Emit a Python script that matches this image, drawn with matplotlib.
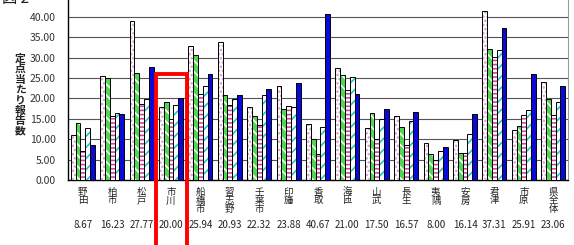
import numpy as np
import matplotlib
matplotlib.use("Agg")
import matplotlib.pyplot as plt
from matplotlib.patches import Rectangle

plt.rcParams['font.family'] = ['Noto Sans CJK JP', 'DejaVu Sans']
plt.rcParams['hatch.linewidth'] = 1.2

# categories (health centre areas) and the current value shown under each
areas = ["野田", "柏市", "松戸", "市川", "船橋市", "習志野", "千葉市", "印旛", "香取",
         "海匝", "山武", "長生", "夷隅", "安房", "君津", "市原", "県全体"]
current_labels = ["8.67", "16.23", "27.77", "20.00", "25.94", "20.93", "22.32", "23.88",
                  "40.67", "21.00", "17.50", "16.57", "8.00", "16.14", "37.31", "25.91", "23.06"]

# five series per area
s1 = [11.0, 25.5, 39.0, 17.8, 32.8, 33.7, 18.0, 23.1, 13.7, 27.4, 12.8, 15.7, 9.1, 9.8, 41.5, 12.3, 24.1]
s2 = [13.9, 24.9, 26.1, 19.2, 30.5, 20.7, 15.7, 17.3, 10.0, 25.7, 16.3, 12.9, 6.4, 6.7, 32.1, 13.2, 19.9]
s3 = [7.2, 15.7, 18.6, 14.9, 21.0, 18.3, 13.5, 18.1, 6.4, 22.1, 10.0, 8.6, 4.9, 6.7, 30.1, 15.9, 15.9]
s4 = [12.7, 16.5, 19.8, 18.4, 23.1, 19.8, 20.8, 18.0, 12.9, 25.3, 14.9, 14.5, 7.2, 11.3, 31.9, 17.2, 19.0]
s5 = [8.67, 16.23, 27.77, 20.00, 25.94, 20.93, 22.32, 23.88, 40.67, 21.00, 17.50, 16.57,
      8.00, 16.14, 37.31, 25.91, 23.06]

series = [s1, s2, s3, s4, s5]
styles = [
    dict(fc="white", hc="#d49ac4", hatch="...."),
    dict(fc="#4fd84f", hc="white", hatch="\\\\\\"),
    dict(fc="white", hc="#d0479a", hatch="----"),
    dict(fc="white", hc="#19c8c8", hatch="///"),
    dict(fc="#0a0ad8", hc="#0a0ad8", hatch=None),
]

W, H = 574, 245
fig = plt.figure(figsize=(W / 100, H / 100), dpi=100)
ymax = 45
px_per = 163.3 / 40
ax_left, ax_right = 68, 568
ax_bottom = 180
ax_top = ax_bottom - ymax * px_per
ax = fig.add_axes([ax_left / W, 1 - ax_bottom / H, (ax_right - ax_left) / W,
                   (ax_bottom - ax_top) / H])

x = np.arange(len(areas))
bw = 0.163
for k, (vals, st) in enumerate(zip(series, styles)):
    xs = x + (k - 2) * bw
    ax.bar(xs, vals, bw, color=st["fc"], edgecolor=st["hc"], hatch=st["hatch"],
           linewidth=0, zorder=3)
    ax.bar(xs, vals, bw, fill=False, edgecolor="black", linewidth=0.7, zorder=4)

ax.set_xlim(-0.5, len(areas) - 0.5)
ax.set_ylim(0, ymax)
ax.set_yticks(np.arange(0, 41, 5))
ax.set_yticklabels([f"{v:.2f}" for v in np.arange(0, 41, 5)], fontsize=7.5, color="#333333")
ax.tick_params(axis="y", length=0, pad=9)
ax.set_xticks([])
ax.grid(axis="y", color="#555555", linewidth=0.8, zorder=0)
ax.set_axisbelow(True)
for side in ["left", "bottom"]:
    ax.spines[side].set_color("black")
    ax.spines[side].set_linewidth(1.0)
ax.spines["right"].set_color("#999999")
ax.spines["top"].set_visible(False)

# stacked category names and current values below the axis
for i, name in enumerate(areas):
    ax.text(i, -1.9, "\n".join(name), ha="center", va="top", fontsize=6.8,
            linespacing=0.95, color="#222222")
    ax.text(i, -11.1, current_labels[i], ha="center", va="center", fontsize=7,
            color="#222222")

# y-axis label in vertical writing
fig.text(20 / W, 1 - 95 / H, "\n".join("定点当たり報告数"), ha="center", va="center",
         fontsize=7.8, linespacing=1.05, color="#222222", fontweight="bold")

# partially cut figure caption
fig.text(2 / W, 1 + 1 / H, "図 2", ha="left", va="center", fontsize=11, color="#222222")

# red highlight box
fig.patches.append(Rectangle((156 / W, 1 - 260 / H), 31 / W, 186 / H, fill=False,
                             edgecolor="#ff0000", linewidth=2.8,
                             transform=fig.transFigure, figure=fig))

fig.savefig("out.png", dpi=100)
